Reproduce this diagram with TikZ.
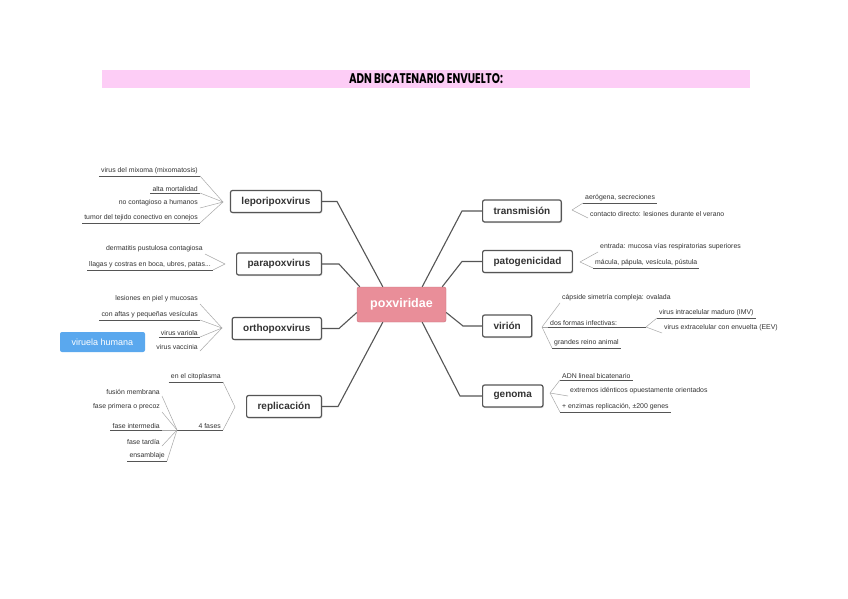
\documentclass[tikz,border=0pt]{standalone}
\usepackage{fontspec}
\setmainfont{Liberation Sans}
\newfontfamily\titlefont{Poppins}
\usetikzlibrary{calc,positioning,shadows}
\definecolor{pinkbar}{HTML}{FDCDF6}
\definecolor{poxfill}{HTML}{E98E99}
\definecolor{poxline}{HTML}{C96F7A}
\definecolor{bluebox}{HTML}{5AA8EE}
\definecolor{lineg}{HTML}{555555}
\definecolor{twigg}{HTML}{A8A8A8}
\definecolor{textg}{HTML}{333333}

\begin{document}
\begin{tikzpicture}[x=1pt,y=-1pt,
  branch/.style={draw=lineg,line width=1.2pt,fill=white,rounded corners=2pt,font=\bfseries\fontsize{10}{12}\selectfont,text=textg,minimum height=22pt,inner xsep=11pt,drop shadow={opacity=.25,shadow xshift=1pt,shadow yshift=-1pt}},
  leafL/.style={anchor=south east,font=\fontsize{6.9}{8}\selectfont,text=textg,inner xsep=2pt,inner ysep=1.5pt},
  leafR/.style={leafL,anchor=south west},
  uline/.style={lineg,line width=.8pt},
  twig/.style={twigg,line width=.5pt},
  spoke/.style={lineg,line width=1.1pt}]
\fill[white] (0,0) rectangle (848,599);
\useasboundingbox (0,0) rectangle (848,599);
% title bar
\node[fill=pinkbar,minimum width=648pt,minimum height=18pt,inner sep=0pt] (bar) at (426,79) {};
\node[font=\titlefont\bfseries\fontsize{14}{16}\selectfont,transform shape,xscale=.74] (title) at (bar) {ADN BICATENARIO ENVUELTO:};
% centre and branches
\node[draw=poxline,fill=poxfill,rounded corners=2pt,minimum width=89pt,minimum height=35pt,text=white,font=\bfseries\fontsize{12.5}{14}\selectfont] (pox) at (401.5,304.5) {poxviridae};
\foreach \n/\y/\t in {lep/201.5/leporipoxvirus,para/264/parapoxvirus,orto/328.5/orthopoxvirus,repl/406.5/replicación}{\node[branch,anchor=east] (\n) at (322,\y) {\t};}
\foreach \n/\y/\t in {trans/211/transmisión,pato/261.5/patogenicidad,vir/326/virión,gen/396/genoma}{\node[branch,anchor=west] (\n) at (482,\y) {\t};}
\draw[spoke] (lep.east) -- ++(15,0) -- ([xshift=26pt]pox.north west);
\draw[spoke] (para.east) -- ++(17,0) -- ([xshift=3pt]pox.north west);
\draw[spoke] (orto.east) -- ++(17,0) -- ([yshift=-8pt]pox.west);
\draw[spoke] (repl.east) -- ++(16,0) -- ([xshift=26pt]pox.south west);
\draw[spoke] (trans.west) -- ++(-20,0) -- ([xshift=-24pt]pox.north east);
\draw[spoke] (pato.west) -- ++(-20,0) -- ([xshift=-4pt]pox.north east);
\draw[spoke] (vir.west) -- ++(-19,0) -- ([yshift=-8pt]pox.east);
\draw[spoke] (gen.west) -- ++(-22,0) -- ([xshift=-24pt]pox.south east);
% meeting points of the leaves
\coordinate (lepC) at (223,202);
\coordinate (paraC) at (225,264);
\coordinate (ortoC) at (222,328);
\coordinate (replC) at (235,407);
\coordinate (fasesC) at (177,430);
\coordinate (transC) at (572,210);
\coordinate (patoC) at (580,262);
\coordinate (virC) at (542,327);
\coordinate (dosC) at (646,327);
\coordinate (genC) at (550,393);
% left leaves
\foreach \n/\x/\y/\t in {lep1/200/176/{virus del mixoma (mixomatosis)},lep2/200/193/alta mortalidad,lep3/200/208/no contagioso a humanos,lep4/200/223/tumor del tejido conectivo en conejos,
  para1/205/254/dermatitis pustulosa contagiosa,para2/213/270/{llagas y costras en boca, ubres, patas...},
  orto1/200/304/lesiones en piel y mucosas,orto2/200/320/con aftas y pequeñas vesículas,orto3/200/337/virus variola,orto4/200/351/virus vaccinia,
  rep1/223/382/en el citoplasma,rep2/223/430/4 fases,
  f1/162/396/fusión membrana,f2/162/412/fase primera o precoz,f3/162/430/fase intermedia,f4/162/446/fase tardía,f5/167/461/ensamblaje}{\node[leafL] (\n) at (\x,\y) {\t};}
% right leaves
\foreach \n/\x/\y/\t in {tr1/583/203/{aerógena, secreciones},tr2/588/218/contacto directo: lesiones durante el verano,
  pa1/598/252/entrada: mucosa vías respiratorias superiores,pa2/593/268/{mácula, pápula, vesícula, pústula},
  vi1/560/303/cápside simetría compleja: ovalada,vi2/548/327/dos formas infectivas:,vi3/552/348/grandes reino animal,
  iv1/657/318/virus intracelular maduro (IMV),iv2/662/333/virus extracelular con envuelta (EEV),
  ge1/560/380/ADN lineal bicatenario,ge2/568/396/extremos idénticos opuestamente orientados,ge3/560/412/{+ enzimas replicación, ±200 genes}}{\node[leafR] (\n) at (\x,\y) {\t};}
\foreach \n in {lep1,lep2,lep4,para2,orto2,orto3,rep1,f3,f5,tr1,pa2,vi3,iv1,ge1,ge3}{\draw[uline] (\n.south west) -- (\n.south east);}
\draw[uline] (fasesC) -- (rep2.south east);
\draw[uline] (vi2.south west) -- (dosC);
\foreach \n/\c in {lep1/lepC,lep2/lepC,lep3/lepC,lep4/lepC,para1/paraC,para2/paraC,orto1/ortoC,orto2/ortoC,orto3/ortoC,orto4/ortoC,rep1/replC,rep2/replC,f1/fasesC,f2/fasesC,f3/fasesC,f4/fasesC,f5/fasesC}{\draw[twig] (\n.south east) -- (\c);}
\foreach \n/\c in {tr1/transC,tr2/transC,pa1/patoC,pa2/patoC,vi1/virC,vi2/virC,vi3/virC,iv1/dosC,iv2/dosC,ge1/genC,ge2/genC,ge3/genC}{\draw[twig] (\n.south west) -- (\c);}
% loose box
\node[fill=bluebox,rounded corners=2pt,minimum width=85pt,minimum height=20pt,text=white,font=\fontsize{9}{10}\selectfont] (viruela) at (102.5,342) {viruela humana};
\end{tikzpicture}
\end{document}
